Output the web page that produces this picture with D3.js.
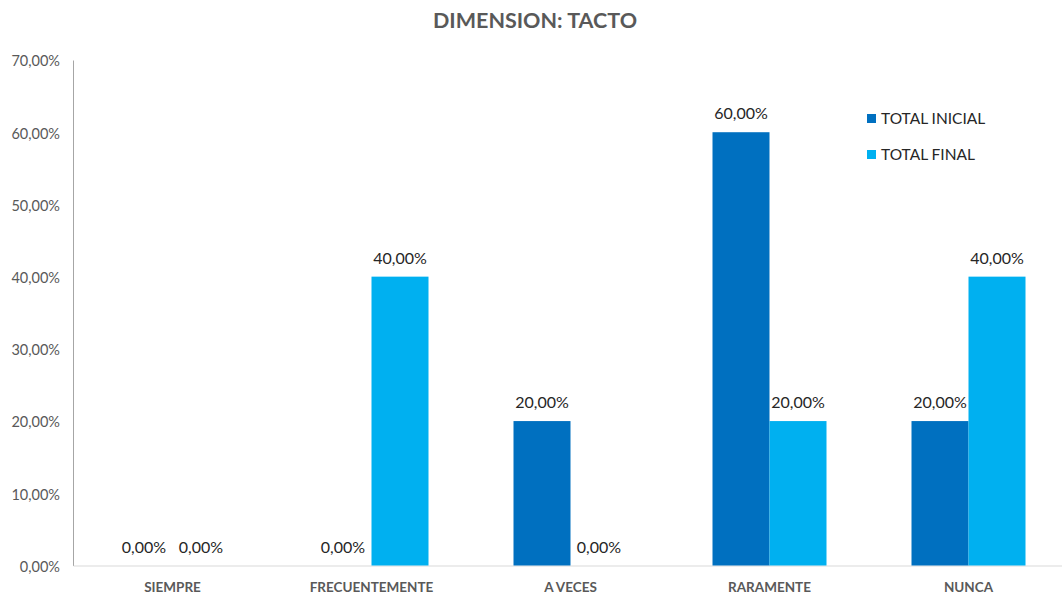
<!DOCTYPE html>
<html><head><meta charset="utf-8">
<script src="https://cdn.jsdelivr.net/npm/d3@7"></script>
<style>body{margin:0;background:#fff}svg{display:block}</style>
</head><body>
<svg id="c" width="1062" height="599"></svg>
<script>
const categories = ["SIEMPRE","FRECUENTEMENTE","A VECES","RARAMENTE","NUNCA"];
const seriesNames = ["TOTAL INICIAL","TOTAL FINAL"];
const totalInicial = [0, 0, 20, 60, 20];
const totalFinal = [0, 40, 0, 20, 40];
const yTicks = [0,10,20,30,40,50,60,70];
const colors = ["#0070C0","#00B0F0"];
const chartTitle = "DIMENSION: TACTO";

(function(){
const svg = d3.select("#c");
const font = "Lato, 'Open Sans', sans-serif";
const pL = 73, pR = 1068, pT = 60, pB = 565.5;
const x = d3.scaleBand().domain(categories).range([pL, pR]);
const y = d3.scaleLinear().domain([0,70]).range([pB, pT]);
const xs = d3.scaleBand().domain(seriesNames).range([0, 114]);
const fmt = v => v.toFixed(2).replace(".", ",") + "%";

svg.append("text").attr("x", 535).attr("y", 28).attr("text-anchor","middle")
  .attr("font-family", font).attr("font-weight","bold").attr("font-size", 21.5)
  .attr("fill","#595959").text(chartTitle);

const ya = svg.append("g").attr("transform",`translate(${pL},0)`)
  .call(d3.axisLeft(y).tickValues(yTicks).tickSize(0).tickPadding(13).tickFormat(fmt));
ya.select(".domain").attr("stroke","#a6a6a6");
ya.selectAll("text").attr("font-family", font).attr("font-size", 14.5).attr("fill","#595959").attr("dy","0.4em");

const xa = svg.append("g").attr("transform",`translate(0,${pB})`)
  .call(d3.axisBottom(x).tickSize(0).tickPadding(17));
xa.select(".domain").attr("stroke","#d9d9d9");
xa.selectAll("text").attr("font-family", font).attr("font-weight","bold").attr("font-size", 13.5).attr("fill","#595959");

const data = [];
categories.forEach((c,i) => {
  data.push({c, s: seriesNames[0], v: totalInicial[i], k: 0});
  data.push({c, s: seriesNames[1], v: totalFinal[i], k: 1});
});
const gx = d => x(d.c) + x.bandwidth()/2 - 57 + xs(d.s);
svg.append("g").selectAll("rect").data(data).join("rect")
  .attr("x", gx).attr("width", xs.bandwidth())
  .attr("y", d => y(d.v)).attr("height", d => y(0) - y(d.v))
  .attr("fill", d => colors[d.k]);
svg.append("g").selectAll("text").data(data).join("text")
  .attr("x", d => gx(d) + xs.bandwidth()/2).attr("y", d => y(d.v) - 13)
  .attr("text-anchor","middle").attr("font-family", font).attr("font-size", 16)
  .attr("fill","#262626").text(d => fmt(d.v));

const lg = svg.append("g").selectAll("g").data(seriesNames).join("g")
  .attr("transform",(d,i)=>`translate(867,${114 + i*36})`);
lg.append("rect").attr("width",9).attr("height",9).attr("fill",(d,i)=>colors[i]);
lg.append("text").attr("x",14).attr("y",10).attr("font-family", font).attr("font-size",15.5)
  .attr("fill","#262626").text(d=>d);
})();
</script>
</body></html>
